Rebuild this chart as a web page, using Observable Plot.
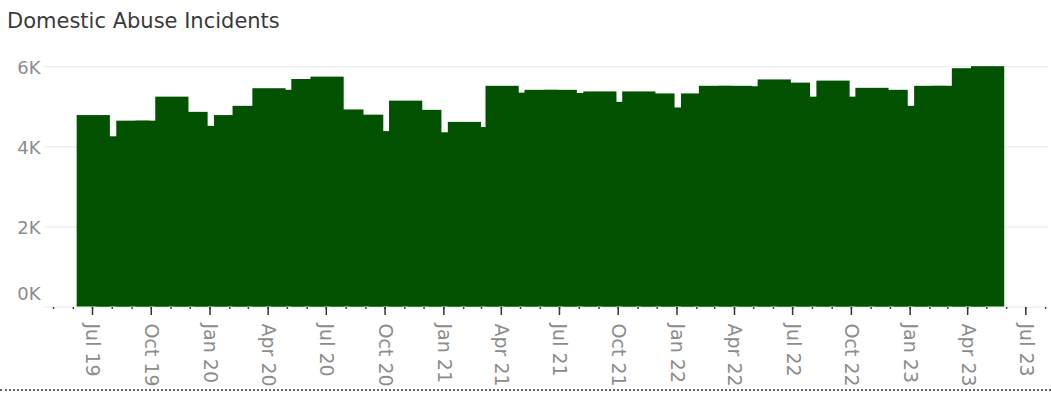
<!DOCTYPE html>
<html>
<head>
<meta charset="utf-8">
<script src="https://cdn.jsdelivr.net/npm/d3@7"></script>
<script src="https://cdn.jsdelivr.net/npm/@observablehq/plot@0.6"></script>
<style>
  html, body { margin: 0; padding: 0; background: #fff; }
  #wrap { position: relative; width: 1051px; height: 396px; overflow: hidden; }
  #title { position: absolute; left: 7px; top: 7px; font-family: "DejaVu Sans", sans-serif; font-size: 21px; line-height: 28px; color: #3a3a3a; white-space: nowrap; }
  #chart { position: absolute; left: 0; top: 40px; }
  #border { position: absolute; left: 0; top: 389px; width: 1051px; height: 0; border-top: 2px dotted #666; }
</style>
</head>
<body>
<div id="wrap">
  <div id="title">Domestic Abuse Incidents</div>
  <div id="chart"></div>
  <div id="border"></div>
</div>
<script>
// Monthly domestic abuse incidents
const months = [
  "2019-07","2019-08","2019-09","2019-10","2019-11","2019-12",
  "2020-01","2020-02","2020-03","2020-04","2020-05","2020-06",
  "2020-07","2020-08","2020-09","2020-10","2020-11","2020-12",
  "2021-01","2021-02","2021-03","2021-04","2021-05","2021-06",
  "2021-07","2021-08","2021-09","2021-10","2021-11","2021-12",
  "2022-01","2022-02","2022-03","2022-04","2022-05","2022-06",
  "2022-07","2022-08","2022-09","2022-10","2022-11","2022-12",
  "2023-01","2023-02","2023-03","2023-04","2023-05"
];
const incidents = [
  4780, 4250, 4640, 4640, 5240, 4860,
  4510, 4780, 5010, 5450, 5410, 5680,
  5740, 4920, 4790, 4380, 5140, 4910,
  4350, 4610, 4480, 5510, 5340, 5410,
  5410, 5330, 5370, 5110, 5370, 5320,
  4970, 5320, 5510, 5510, 5500, 5670,
  5590, 5240, 5640, 5240, 5460, 5410,
  5010, 5510, 5510, 5950, 6000
];
const tickDates = [
  "2019-07-01","2019-10-01","2020-01-01","2020-04-01","2020-07-01",
  "2020-10-01","2021-01-01","2021-04-01","2021-07-01","2021-10-01",
  "2022-01-01","2022-04-01","2022-07-01","2022-10-01","2023-01-01",
  "2023-04-01","2023-07-01"
];
const tickLabels = [
  "Jul 19","Oct 19","Jan 20","Apr 20","Jul 20",
  "Oct 20","Jan 21","Apr 21","Jul 21","Oct 21",
  "Jan 22","Apr 22","Jul 22","Oct 22","Jan 23",
  "Apr 23","Jul 23"
];
const yTicks = [0, 2000, 4000, 6000];
const yTickLabels = ["0K", "2K", "4K", "6K"];

// Build table
const data = months.map((m, i) => ({ date: new Date(m + "-01T00:00:00Z"), value: incidents[i] }));
const majorTicks = tickDates.map(d => new Date(d + "T00:00:00Z"));
const labelMap = new Map(majorTicks.map((d, i) => [+d, tickLabels[i]]));
const minorTicks = d3.utcMonth.range(new Date("2019-05-01T00:00:00Z"), new Date("2023-09-01T00:00:00Z"));
const yLabelMap = new Map(yTicks.map((v, i) => [v, yTickLabels[i]]));

// Tableau-style overlapping month bars (centre slightly after month start, ~1.7 months wide)
const centerShift = 2, halfWidth = 26;
const x1 = d => d3.utcDay.offset(d.date, centerShift - halfWidth);
const x2 = d => d3.utcDay.offset(d.date, centerShift + halfWidth);

const W = 1051, H = 356;
const x0 = 92, pxPerDay = 0.6388;

const chart = Plot.plot({
  width: W,
  height: H,
  marginTop: 13,
  marginBottom: 89,
  marginLeft: 44,
  marginRight: 3,
  style: { fontFamily: "DejaVu Sans, sans-serif", background: "white", overflow: "visible" },
  x: {
    type: "utc",
    domain: [majorTicks[0], majorTicks[majorTicks.length - 1]],
    range: [x0, x0 + pxPerDay * 1461]
  },
  y: { domain: [0, 6000], range: [266.5, 26.2] },
  marks: [
    Plot.gridY(yTicks, { stroke: "#e8e8e8", strokeOpacity: 1 }),
    Plot.rectY(data, { x1, x2, y: "value", fill: "#025202" }),
    Plot.axisY(yTicks.filter(v => v !== 0), {
      label: null, tickSize: 0, tickPadding: 4, fontSize: 18, fill: "#8c8c8c", dy: 1.5,
      tickFormat: v => yLabelMap.get(v)
    }),
    Plot.axisY([0], {
      label: null, tickSize: 0, tickPadding: 4, fontSize: 18, fill: "#8c8c8c", dy: -13,
      tickFormat: v => yLabelMap.get(v)
    }),
    Plot.axisX(minorTicks, {
      label: null, tickSize: 2, stroke: "#444", strokeWidth: 1.5, tickFormat: () => ""
    }),
    Plot.axisX(majorTicks, {
      label: null, tickSize: 8, tickPadding: 8, stroke: "#333", strokeWidth: 1.5,
      tickRotate: 90, fontSize: 19, fill: "#8c8c8c",
      tickFormat: d => labelMap.get(+d)
    })
  ]
});

document.getElementById("chart").appendChild(chart);
</script>
</body>
</html>
